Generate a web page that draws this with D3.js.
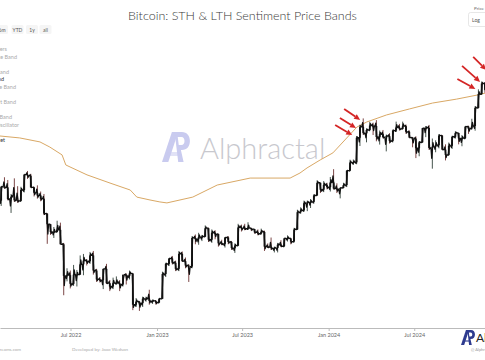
<!DOCTYPE html>
<html><head><meta charset="utf-8">
<script src="https://cdn.jsdelivr.net/npm/d3@7"></script>
<style>html,body{margin:0;padding:0;background:#fff;overflow:hidden}svg{display:block}</style>
</head><body><svg id="c" width="485" height="360"></svg>
<script>
// ---------- DATA (USD thousands, weekly candles starting Monday) ----------
const firstWeek = "2022-01-31";
const priceOpen = [
37.9,42.4,42.2,38.4,39.1,38.0,37.8,41.3,46.8,46.4, 42.2,40.4,39.5,38.5,34.1,31.3,29.4,29.4,29.9,26.6,
20.6,20.7,19.3,20.8,20.8,22.6,23.3,23.2,24.3,21.5, 20.0,19.9,21.8,19.4,18.9,19.4,19.4,19.2,20.8,20.6,
21.0,16.3,16.7,16.5,17.1,17.1,16.8,16.8,
16.6,17.1,20.9,22.7,23.7,22.9,21.8,24.6,23.2,22.4, 22.2,28.0,27.8,28.2,28.3,30.3,27.6,29.2,28.9,26.8,
26.7,28.1,27.1,25.8,26.3,30.5,30.3,30.2,30.3,30.1, 29.3,29.0,29.4,26.1,26.0,25.8,25.8,26.5,26.2,27.9,
27.9,27.2,30.0,34.5,35.0,37.1,37.4,37.5,39.5,43.8, 41.4,43.0,
42.3,43.9,41.8,41.6,42.0,43.0,48.3,51.6,51.7,63.1, 68.9,65.5,67.2,69.6,69.4,63.5,64.9,63.4,63.9,61.5,
66.9,68.5,67.8,69.3,66.2,63.2,62.7,58.0,60.8,68.2, 68.3,58.1,58.7,59.4,64.2,57.3,54.9,59.1,63.6,65.6,
62.8,62.9,69.0,68.0,69.4,80.4,89.9,97.9];
const priceHigh = [
42.6,45.8,44.8,40.0,45.4,42.6,42.4,46.9,48.2,47.1, 42.4,42.9,40.8,40.0,34.2,31.3,30.6,32.2,31.7,26.9,
21.9,21.5,22.5,21.6,24.3,24.6,23.6,25.0,25.2,21.8, 20.4,21.8,22.7,19.9,20.3,20.5,19.9,19.7,21.0,21.5,
21.0,17.2,16.8,17.4,17.4,18.4,17.0,16.9,
17.2,21.3,22.9,23.8,24.2,23.3,25.2,25.1,23.9,22.6, 28.4,28.8,29.2,28.7,31.0,30.4,30.0,29.8,29.0,27.6,
28.2,28.4,27.3,26.8,31.4,31.2,31.4,31.8,30.4,30.1, 30.0,30.2,29.7,26.8,28.1,26.1,26.9,27.5,28.0,28.6,
28.0,30.4,35.2,35.9,37.9,37.9,38.4,39.9,44.7,43.8, 44.4,43.8,
45.9,48.9,43.6,42.2,43.8,48.5,52.8,52.9,64.0,70.1, 73.8,68.1,71.8,71.3,72.8,66.9,67.2,64.7,65.5,67.4,
71.9,70.6,71.9,70.2,66.9,63.4,63.8,61.4,68.3,69.4, 70.0,62.7,61.8,65.0,64.5,59.8,60.7,64.1,66.5,65.6,
64.5,69.4,69.5,73.6,81.5,93.4,99.6,98.9];
const priceLow = [
36.3,41.7,38.0,34.3,37.5,37.2,37.6,40.5,45.2,42.1, 39.2,38.5,37.7,33.7,26.7,28.7,28.0,29.3,26.6,17.6,
19.7,18.6,19.0,18.9,20.8,20.7,22.4,22.7,20.8,19.6, 19.5,18.5,19.3,18.2,18.5,19.2,18.2,18.9,19.2,20.0,
15.6,16.0,15.5,16.0,16.7,16.3,16.4,16.3,
16.5,17.1,20.4,22.3,22.6,21.4,21.4,23.1,21.9,19.6, 21.9,26.6,26.5,27.3,28.2,27.1,26.9,27.7,26.1,26.4,
25.9,26.6,25.4,24.8,26.2,29.5,29.8,29.9,29.6,29.0, 28.6,28.8,25.2,25.8,25.4,24.9,24.9,26.0,26.0,27.2,
26.6,27.0,29.9,34.1,34.6,34.8,35.7,37.0,39.5,40.3, 40.6,41.5,
40.8,41.5,40.3,38.6,41.9,42.3,48.1,50.6,50.9,59.0, 64.6,60.8,66.6,64.5,61.3,59.7,62.8,56.5,60.2,60.8,
66.1,66.9,67.6,65.1,63.0,58.4,53.5,54.3,60.6,63.4, 57.2,49.1,56.1,57.9,57.2,52.5,54.6,57.6,62.7,59.8,
58.9,62.4,65.1,67.5,66.8,80.2,89.4,90.8];
const priceClose = [
42.4,42.2,38.4,39.1,38.0,37.8,41.3,46.8,46.4,42.2, 40.4,39.5,38.5,34.1,31.3,29.4,29.4,29.9,26.6,20.6,
20.7,19.3,20.8,20.8,22.6,23.3,23.2,24.3,21.5,20.0, 19.9,21.8,19.4,18.9,19.4,19.4,19.2,20.8,20.6,21.0,
16.3,16.7,16.5,17.1,17.1,16.8,16.8,16.6,
17.1,20.9,22.7,23.7,22.9,21.8,24.6,23.2,22.4,22.2, 28.0,27.8,28.2,28.3,30.3,27.6,29.2,28.9,26.8,26.7,
28.1,27.1,25.8,26.3,30.5,30.3,30.2,30.3,30.1,29.3, 29.0,29.4,26.1,26.0,25.8,25.8,26.5,26.2,27.9,27.9,
27.2,30.0,34.5,35.0,37.1,37.4,37.5,39.5,43.8,41.4, 43.0,42.3,
43.9,41.8,41.6,42.0,43.0,48.3,51.6,51.7,63.1,68.9, 65.5,67.2,69.6,69.4,63.5,64.9,63.4,63.9,61.5,66.9,
68.5,67.8,69.3,66.2,63.2,62.7,58.0,60.8,68.2,68.3, 58.1,58.7,59.4,64.2,57.3,54.9,59.1,63.6,65.6,62.8,
62.9,69.0,68.0,69.4,80.4,89.9,97.9,93.0];

// STH/LTH sentiment band (USD thousands)
const bandDates = ["2022-02-01","2022-03-15","2022-04-27","2022-05-18","2022-06-13","2022-06-21","2022-08-05",
"2022-09-23","2022-11-05","2022-11-19","2022-12-17","2023-01-07","2023-01-22","2023-03-18","2023-05-09",
"2023-07-18","2023-10-11","2023-11-01","2023-11-16","2023-12-14","2024-01-10","2024-03-01","2024-03-22",
"2024-05-03","2024-06-21","2024-08-09","2024-09-29","2024-11-12","2024-11-29"];
const bandValues = [64.0,63.0,61.0,58.5,54.9,50.6,46.7,43.7,41.3,39.0,38.1,37.5,37.2,39.0,43.0,
45.5,45.5,47.4,49.4,52.7,55.8,68.8,71.7,75.9,79.7,83.6,86.3,89.2,90.6];

const xTickDates = ["2022-07-01","2023-01-01","2023-07-01","2024-01-01","2024-07-01"];
const xTickLabels = ["Jul 2022","Jan 2023","Jul 2023","Jan 2024","Jul 2024"];
const legendLabels = ["Short-Term Holders","STH Upper Price Band","LTH Upper Band","Sentiment Band",
"STH Lower Price Band","LTH Support Band","Lower Band","Sentiment Oscillator","Market"];
const legendActive = [false,false,false,true,false,false,false,false,true];
const rangeButtons = ["6m","YTD","1y","all"];
// arrow annotations (target date, price in USD thousands)
const arrowDates = ["2024-03-08","2024-02-28","2024-02-20","2024-12-01","2024-11-18","2024-11-08"];
const arrowPrices = [72.9,68.3,64.5,109.3,99.2,93.7];
const titleText = "Bitcoin: STH & LTH Sentiment Price Bands";

// ---------- DRAW ----------
const svg = d3.select("#c");
const parse = d3.utcParse("%Y-%m-%d");
const x = d3.scaleUtc().domain([parse("2022-02-01"), new Date(Date.UTC(2024,10,28,12))]).range([0,485]);
const y = d3.scaleLog().domain([13.494,192.75]).range([328,0]);
const FONT = "Lato, 'Open Sans', sans-serif";

svg.append("rect").attr("width",485).attr("height",360).attr("fill","#fff");

function logo(g, color){
  g.append("path").attr("d","M0,30 L11,0 L18,0 L7,30 Z").attr("fill",color);
  g.append("path").attr("fill-rule","evenodd").attr("fill",color)
   .attr("d","M14,0 L22,0 C28,0 31,4 31,9 C31,14 28,18 22,18 L21,18 L24,30 L18,30 Z M17.5,5 L21.5,5 C24,5 25,7 25,9 C25,11 24,13 21.5,13 L18.6,13 Z");
  g.append("path").attr("d","M5.5,24 L19.5,24 L18.8,20 L7,20 Z").attr("fill",color).attr("opacity",0.55);
}
// watermark
const wm = svg.append("g").attr("transform","translate(162,132) scale(0.9,1)");
logo(wm,"#c9cbef");
svg.append("text").attr("x",200).attr("y",159).attr("font-family",FONT).attr("font-size",29).attr("font-weight",300)
  .attr("fill","#c8c8ce").text("Alphractal");

// title
svg.append("text").attr("x",242.5).attr("y",20).attr("text-anchor","middle").attr("font-family",FONT)
  .attr("font-size",12.5).attr("font-weight",300).attr("fill","#3a3a3a").text(titleText);

// range buttons
const btnX = [2,17.5,32,45.5];
rangeButtons.forEach((b,i)=>{
  svg.append("rect").attr("x",btnX[i]-6).attr("y",25).attr("width",12).attr("height",9).attr("rx",1.5).attr("fill","#f5f5f5");
  svg.append("text").attr("x",btnX[i]).attr("y",31.5).attr("text-anchor","middle").attr("font-family",FONT)
    .attr("font-size",5).attr("fill","#555").text(b);
});

// legend (cut by left edge, as in the reference)
const legLine = [0,1,3,4,5,7,9,10,12];
const legEnd = [7,17,9,4,16,16,12,19,5];
legendLabels.forEach((t,i)=>{
  svg.append("text").attr("x",legEnd[i]).attr("y",49+legLine[i]*7.6+2).attr("text-anchor","end")
    .attr("font-family",FONT).attr("font-size",5.5).attr("fill",legendActive[i]?"#333":"#aaa").text(t);
});

// top-right selector
svg.append("text").attr("x",474).attr("y",10).attr("font-family",FONT).attr("font-size",4.5).attr("fill","#666").text("Price");
svg.append("rect").attr("x",468.5).attr("y",12.5).attr("width",20).attr("height",14).attr("rx",2).attr("fill","#fff").attr("stroke","#ddd").attr("stroke-width",0.7);
svg.append("text").attr("x",472).attr("y",21.5).attr("font-family",FONT).attr("font-size",5).attr("fill","#555").text("Log");

// band line
const band = bandDates.map((d,i)=>({t:parse(d),v:bandValues[i]}));
svg.append("path").datum(band).attr("fill","none").attr("stroke","#d9a865").attr("stroke-width",1)
  .attr("d",d3.line().x(d=>x(d.t)).y(d=>y(d.v)));

// candles: thin wicks + open->close strokes joined into a jagged price trace
const start = parse(firstWeek);
const candles = priceClose.map((c,i)=>({t0:d3.utcDay.offset(start,7*i), t:d3.utcHour.offset(d3.utcDay.offset(start,7*i),84),
  t1:d3.utcDay.offset(start,7*i+7), o:priceOpen[i],h:priceHigh[i],l:priceLow[i],c:c}));
const cg = svg.append("g");
cg.selectAll("line").data(candles).join("line")
  .attr("x1",d=>x(d.t)).attr("x2",d=>x(d.t)).attr("y1",d=>y(d.h)).attr("y2",d=>y(d.l))
  .attr("stroke",d=>d.c>=d.o?"#16281f":"#5a1818").attr("stroke-width",0.8);
const trace = [];
candles.forEach(d=>{ trace.push([x(d.t0)+0.3,y(d.o)]); trace.push([x(d.t)-0.6,y(d.c>=d.o?d.l:d.h)*0.5+y(d.o)*0.5]); trace.push([x(d.t)+0.6,y(d.c>=d.o?d.h:d.l)*0.5+y(d.c)*0.5]); trace.push([x(d.t1)-0.3,y(d.c)]); });
cg.append("path").attr("fill","none").attr("stroke","#111").attr("stroke-width",1.3).attr("stroke-linejoin","round")
  .attr("d",d3.line()(trace));
cg.selectAll("rect").data(candles).join("rect")
  .attr("x",d=>x(d.t)-0.9).attr("width",1.8)
  .attr("y",d=>Math.min(y(d.o),y(d.c))).attr("height",d=>Math.max(1,Math.abs(y(d.o)-y(d.c))))
  .attr("fill","#111");

// arrows
const arrowOff = [[-16,-11],[-16,-10],[-17,-10],[-13,-13],[-18,-16],[-18,-10]];
arrowDates.forEach((d,i)=>{
  const tx=x(parse(d)), ty=y(arrowPrices[i]);
  const sx=tx+arrowOff[i][0], sy=ty+arrowOff[i][1];
  const ang=Math.atan2(ty-sy,tx-sx), L=6, Wd=2.8;
  const bx=tx-L*Math.cos(ang), by=ty-L*Math.sin(ang);
  svg.append("line").attr("x1",sx).attr("y1",sy).attr("x2",bx).attr("y2",by).attr("stroke","#d42525").attr("stroke-width",1.8);
  svg.append("path").attr("fill","#d42525")
    .attr("d",`M${tx},${ty} L${bx+Wd*Math.sin(ang)},${by-Wd*Math.cos(ang)} L${bx-Wd*Math.sin(ang)},${by+Wd*Math.cos(ang)} Z`);
});

// x axis
const ax = svg.append("g").attr("transform","translate(0,328)")
  .call(d3.axisBottom(x).tickValues(xTickDates.map(parse)).tickFormat((d,i)=>xTickLabels[i]).tickSize(3).tickSizeOuter(0));
ax.select(".domain").attr("stroke","#bbb");
ax.selectAll(".tick line").attr("stroke","#bbb");
ax.selectAll(".tick text").attr("font-family",FONT).attr("font-size",5.5).attr("fill","#666").attr("dy","0.5em");

// footer
svg.append("text").attr("x",21).attr("y",351).attr("text-anchor","end").attr("font-family",FONT).attr("font-size",4.5).attr("fill","#aaa").text("Data: Alphractal Streams.com");
svg.append("text").attr("x",72).attr("y",351).attr("font-family",FONT).attr("font-size",4.5).attr("fill","#aaa").text("Developed by: Joao Wedson");

// bottom-right brand
const bl = svg.append("g").attr("transform","translate(461,330) scale(0.45,0.5)");
logo(bl,"#2e3b8f");
svg.append("text").attr("x",476).attr("y",342).attr("font-family",FONT).attr("font-size",12).attr("fill","#222").text("Alphractal");
svg.append("text").attr("x",471).attr("y",351).attr("font-family",FONT).attr("font-size",4).attr("fill","#999").text("@ Alphractal");
</script></body></html>
